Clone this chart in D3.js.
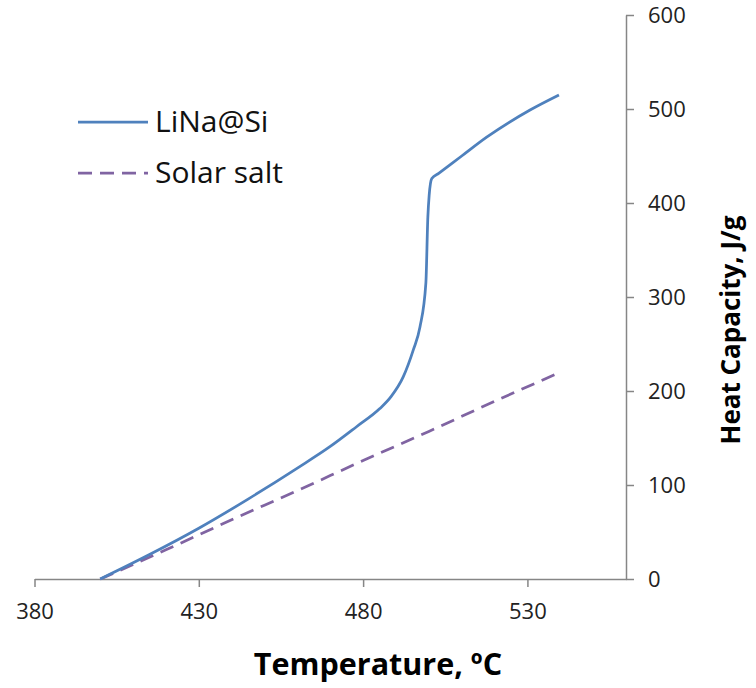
<!DOCTYPE html>
<html>
<head>
<meta charset="utf-8">
<script src="https://cdn.jsdelivr.net/npm/d3@7"></script>
<style>
  body { margin: 0; background: #fff; }
  text { font-family: "Open Sans", sans-serif; }
</style>
</head>
<body>
<div id="chart"></div>
<script>
// LiNa@Si curve (temperature in C, heat capacity in J/g)
let lina_temp = [400, 415, 430, 445, 460, 470, 478, 485, 488.5, 492.2, 495.3, 497.3, 499.1, 499.7, 500.1, 500.9, 503, 510, 517.6, 530.8, 539.6]
let lina_cap  = [0, 26, 54, 85, 118, 141, 162, 181, 194, 215, 244, 268, 315, 385, 408, 426, 431.5, 450, 470, 499, 515]

// Solar salt line
let salt_temp = [400, 420, 440, 460, 480, 500, 520, 540]
let salt_cap  = [0, 31, 63, 94, 126, 157, 189, 220]

let x_ticks = [380, 430, 480, 530]
let y_ticks = [0, 100, 200, 300, 400, 500, 600]

let width = 756, height = 688
let margin = {left: 34.5, right: 130, top: 15, bottom: 109}

let svg = d3.select("#chart")
    .append("svg")
    .attr("width", width)
    .attr("height", height)

let x = d3.scaleLinear()
    .domain([380, 560])
    .range([margin.left, width - margin.right])

let y = d3.scaleLinear()
    .domain([0, 600])
    .range([height - margin.bottom, margin.top])

// x axis
let x_axis = svg.append("g")
    .attr("transform", `translate(0, ${y(0)})`)
    .call(d3.axisBottom(x).tickValues(x_ticks).tickSize(8).tickSizeOuter(0).tickPadding(16))
x_axis.select(".domain").attr("stroke", "#868686").attr("stroke-width", 1.5)
x_axis.selectAll(".tick line").attr("stroke", "#868686").attr("stroke-width", 1.5)
x_axis.selectAll("text").style("font-size", "22px").attr("fill", "#222")

// y axis on the right
let y_axis = svg.append("g")
    .attr("transform", `translate(${x(560)}, 0)`)
    .call(d3.axisRight(y).tickValues(y_ticks).tickSize(8).tickSizeOuter(0).tickPadding(14))
y_axis.select(".domain").attr("stroke", "#868686").attr("stroke-width", 1.5)
y_axis.selectAll(".tick line").attr("stroke", "#868686").attr("stroke-width", 1.5)
y_axis.selectAll("text").style("font-size", "22px").attr("fill", "#222")

// axis titles
svg.append("text")
    .attr("x", 378)
    .attr("y", 675)
    .style("text-anchor", "middle")
    .style("font-size", "30.5px")
    .style("font-weight", "bold")
    .text("Temperature, ºC")

svg.append("text")
    .attr("transform", `translate(740, 330) rotate(-90)`)
    .style("text-anchor", "middle")
    .style("font-size", "26px")
    .style("font-weight", "bold")
    .text("Heat Capacity, J/g")

let line = d3.line()
    .x(function(d) { return x(d[0]) })
    .y(function(d) { return y(d[1]) })
    .curve(d3.curveMonotoneX)

let salt_data = salt_temp.map(function(t, i) { return [t, salt_cap[i]] })
let lina_data = lina_temp.map(function(t, i) { return [t, lina_cap[i]] })

svg.append("path")
    .datum(salt_data)
    .attr("d", line)
    .attr("fill", "none")
    .attr("stroke", "#8064A2")
    .attr("stroke-width", 2.75)
    .attr("stroke-dasharray", "14,8")

svg.append("path")
    .datum(lina_data)
    .attr("d", line)
    .attr("fill", "none")
    .attr("stroke", "#4F81BD")
    .attr("stroke-width", 2.75)

// legend
let legend_items = [
    {name: "LiNa@Si", color: "#4F81BD", dash: null},
    {name: "Solar salt", color: "#8064A2", dash: "14,8"}
]

let legend = svg.append("g").attr("transform", "translate(78, 122)")

legend.selectAll(null)
    .data(legend_items)
    .enter()
    .append("line")
    .attr("x1", 0)
    .attr("x2", 70)
    .attr("y1", function(d, i) { return i * 51 })
    .attr("y2", function(d, i) { return i * 51 })
    .attr("stroke", function(d) { return d.color })
    .attr("stroke-width", 2.75)
    .attr("stroke-dasharray", function(d) { return d.dash })

legend.selectAll(null)
    .data(legend_items)
    .enter()
    .append("text")
    .attr("x", 77)
    .attr("y", function(d, i) { return i * 51 + 10 })
    .style("font-size", "30px")
    .attr("fill", "#111")
    .text(function(d) { return d.name })
</script>
</body>
</html>
